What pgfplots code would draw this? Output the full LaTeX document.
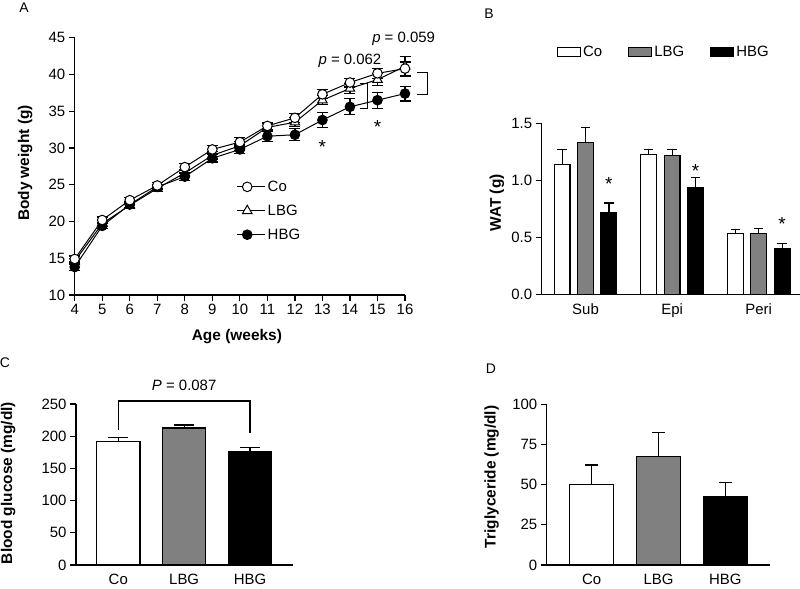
\documentclass[border=0pt]{standalone}
\usepackage{fontspec}
\setmainfont{Liberation Sans}
\usepackage{pgfplots}
\pgfplotsset{compat=1.18}

\newcommand\tk{\fontsize{15}{16}\selectfont}
\newcommand\lb{\bfseries\fontsize{15.5}{16}\selectfont}
\newcommand\st{\fontsize{19}{19}\selectfont}

\pgfplotsset{
  panel/.style={
    scale only axis, anchor=south west, clip=false,
    axis lines=left, axis line style={line width=1.2bp, -},
    tick align=outside, major tick length=6bp,
    tick style={line width=1.2bp, black},
    /pgf/number format/assume math mode=true,
    tick label style={font=\tk},
    label style={font=\lb},
    ylabel style={anchor=center},
    xlabel style={anchor=center},
  },
  barpanel/.style={
    panel, ybar, x tick style={draw=none}, xtick={0,1,2},
  },
}

\begin{document}
\begin{tikzpicture}
\useasboundingbox (0,0) rectangle (800bp,-589bp);

% panel letters
\node[font=\fontsize{14}{14}\selectfont] at (24bp,-7.5bp) {A};
\node[font=\fontsize{14}{14}\selectfont] at (489bp,-14bp) {B};
\node[font=\fontsize{14}{14}\selectfont] at (5bp,-363bp) {C};
\node[font=\fontsize{14}{14}\selectfont] at (491bp,-369bp) {D};

% A: body weight
\begin{axis}[panel, at={(74.7bp,-295bp)}, width=330.3bp, height=257.3bp,
  xmin=4, xmax=16, ymin=10, ymax=45,
  xtick={4,...,16}, ytick={10,15,...,45},
  xlabel={Age (weeks)}, ylabel={Body weight (g)},
  xlabel style={at={(axis description cs:0.491,-0.163)}},
  ylabel style={at={(axis description cs:-0.150,0.513)}},
  every axis plot/.append style={black, line width=1bp},
  error bars/y dir=both, error bars/y explicit,
  error bars/error bar style={line width=1.2bp},
  error bars/error mark options={line width=1.2bp, mark size=5.5bp, rotate=90},
  legend style={at={(axis description cs:0.49,0.452)}, anchor=north west,
    draw=none, fill=none, font=\tk, row sep=8bp, inner sep=0pt},
  legend cell align=left,
  legend image code/.code={\draw[mark repeat=2, mark phase=2, #1]
    plot coordinates {(0bp,0bp) (10bp,0bp) (28bp,0bp)};},
]
\addlegendimage{mark=*, mark size=4.8bp, mark options={fill=white, line width=1bp}}
\addlegendentry{Co}
\addlegendimage{mark=triangle*, mark size=5.5bp, mark options={fill=white, line width=1bp}}
\addlegendentry{LBG}
\addlegendimage{mark=*, mark size=4.8bp, mark options={fill=black}}
\addlegendentry{HBG}

% LBG
\addplot[mark=triangle*, mark size=5.5bp, mark options={fill=white}, forget plot]
coordinates {
 (4,14.6) +- (0,0.4) (5,19.7) +- (0,0.4) (6,22.2) +- (0,0.4) (7,24.5) +- (0,0.4)
 (8,26.6) +- (0,0.5) (9,29.0) +- (0,0.5) (10,30.3) +- (0,0.6) (11,32.8) +- (0,0.5)
 (12,33.5) +- (0,0.6) (13,36.5) +- (0,0.6) (14,38.1) +- (0,0.7) (15,39.3) +- (0,0.8)
 (16,41.1) +- (0,1.3)
};
% HBG
\addplot[mark=*, mark size=4.8bp, mark options={fill=black}, forget plot]
coordinates {
 (4,13.8) +- (0,0.5) (5,19.4) +- (0,0.4) (6,22.3) +- (0,0.4) (7,24.7) +- (0,0.3)
 (8,26.1) +- (0,0.5) (9,28.6) +- (0,0.5) (10,29.8) +- (0,0.6) (11,31.6) +- (0,0.7)
 (12,31.8) +- (0,0.8) (13,33.8) +- (0,1.0) (14,35.6) +- (0,1.1) (15,36.5) +- (0,1.1)
 (16,37.4) +- (0,1.0)
};
% Co
\addplot[mark=*, mark size=4.8bp, mark options={fill=white}, forget plot]
coordinates {
 (4,14.9) +- (0,0.4) (5,20.2) +- (0,0.4) (6,22.9) +- (0,0.4) (7,24.9) +- (0,0.4)
 (8,27.4) +- (0,0.5) (9,29.8) +- (0,0.5) (10,30.8) +- (0,0.6) (11,33.0) +- (0,0.5)
 (12,34.1) +- (0,0.6) (13,37.3) +- (0,0.6) (14,38.9) +- (0,0.6) (15,40.15) +- (0,0.7)
 (16,40.8) +- (0,0.9)
};

\draw[line width=1bp] (axis cs:14.35,38.8) -- (axis cs:14.63,38.8)
  -- (axis cs:14.63,35.4) -- (axis cs:14.35,35.4);
\draw[line width=1bp] (axis cs:16.44,40.3) -- (axis cs:16.8,40.3)
  -- (axis cs:16.8,37.3) -- (axis cs:16.44,37.3);
\node[font=\tk] at (axis cs:14.0,41.8) {\textit{p} = 0.062};
\node[font=\tk] at (axis cs:15.95,44.8) {\textit{p} = 0.059};
\node[font=\st] at (axis cs:13,30.2) {*};
\node[font=\st] at (axis cs:15,32.9) {*};
\end{axis}

% B: WAT
\begin{axis}[barpanel, at={(541.7bp,-294.3bp)}, width=258bp, height=171bp,
  xmin=-0.506, xmax=2.473, ymin=0, ymax=1.5,
  ytick={0,0.5,1,1.5},
  yticklabel style={/pgf/number format/.cd, fixed, fixed zerofill, precision=1},
  xticklabels={Sub,Epi,Peri},
  ylabel={WAT (g)},
  ylabel style={at={(axis description cs:-0.174,0.534)}},
  bar width=15.7bp,
  error bars/y dir=plus, error bars/y explicit,
  error bars/error bar style={line width=1.2bp},
  error bars/error mark options={line width=1.2bp, mark size=4.7bp, rotate=90},
  legend style={at={(axis description cs:0.058,1.419)}, anchor=west,
    draw=none, fill=none, font=\tk, inner sep=0pt,
    /tikz/every even column/.append style={column sep=24bp}},
  legend columns=3,
  legend image code/.code={\draw[#1, line width=1.2bp] (0bp,-4.5bp) rectangle (23bp,4.5bp);},
]
\addplot[fill=white, draw=black, line width=1.2bp, bar shift=-23.4bp]
coordinates {(0,1.14) +- (0,0.13) (1,1.225) +- (0,0.045) (2,0.535) +- (0,0.03)};
\addlegendentry{Co}
\addplot[fill=gray, draw=black, line width=1.2bp, bar shift=0bp]
coordinates {(0,1.33) +- (0,0.13) (1,1.215) +- (0,0.055) (2,0.535) +- (0,0.04)};
\addlegendentry{LBG}
\addplot[fill=black, draw=black, line width=1.2bp, bar shift=23.4bp]
coordinates {(0,0.716) +- (0,0.085) (1,0.936) +- (0,0.09) (2,0.40) +- (0,0.047)};
\addlegendentry{HBG}
\node[font=\st, xshift=23.4bp] at (axis cs:0,0.965) {*};
\node[font=\st, xshift=23.4bp] at (axis cs:1,1.085) {*};
\node[font=\st, xshift=23.4bp] at (axis cs:2,0.615) {*};
\end{axis}

% C: blood glucose
\begin{axis}[barpanel, at={(76bp,-565bp)}, width=217.3bp, height=161bp,
  xmin=-0.642, xmax=2.657, ymin=0, ymax=250,
  ytick={0,50,...,250},
  xticklabels={Co,LBG,HBG},
  ylabel={Blood glucose (mg/dl)},
  ylabel style={at={(axis description cs:-0.312,0.509)}},
  bar width=43.3bp, bar shift=0bp,
  error bars/y dir=plus, error bars/y explicit,
  error bars/error bar style={line width=1.2bp},
  error bars/error mark options={line width=1.2bp, mark size=10bp, rotate=90},
]
\addplot[fill=white, draw=black, line width=1.2bp] coordinates {(0,192) +- (0,6)};
\addplot[fill=gray, draw=black, line width=1.2bp] coordinates {(1,212.7) +- (0,4.7)};
\addplot[fill=black, draw=black, line width=1.2bp] coordinates {(2,176) +- (0,6.7)};
\draw[line width=1.2bp] (axis cs:0,209.6) -- (axis cs:0,254.6)
  -- (axis cs:2,254.6) -- (axis cs:2,204.5);
\node[font=\tk] at (axis cs:1,279.5) {\textit{P} = 0.087};
\end{axis}

% D: triglyceride
\begin{axis}[barpanel, at={(546.7bp,-565bp)}, width=223.3bp, height=160.7bp,
  xmin=-0.674, xmax=2.669, ymin=0, ymax=100,
  ytick={0,25,...,100},
  xticklabels={Co,LBG,HBG},
  ylabel={Triglyceride (mg/dl)},
  ylabel style={at={(axis description cs:-0.246,0.549)}},
  bar width=44bp, bar shift=0bp,
  error bars/y dir=plus, error bars/y explicit,
  error bars/error bar style={line width=1.2bp},
  error bars/error mark options={line width=1.2bp, mark size=6.5bp, rotate=90},
]
\addplot[fill=white, draw=black, line width=1.2bp] coordinates {(0,50.2) +- (0,12)};
\addplot[fill=gray, draw=black, line width=1.2bp] coordinates {(1,67.4) +- (0,15)};
\addplot[fill=black, draw=black, line width=1.2bp] coordinates {(2,42.3) +- (0,9.2)};
\end{axis}
\end{tikzpicture}
\end{document}
